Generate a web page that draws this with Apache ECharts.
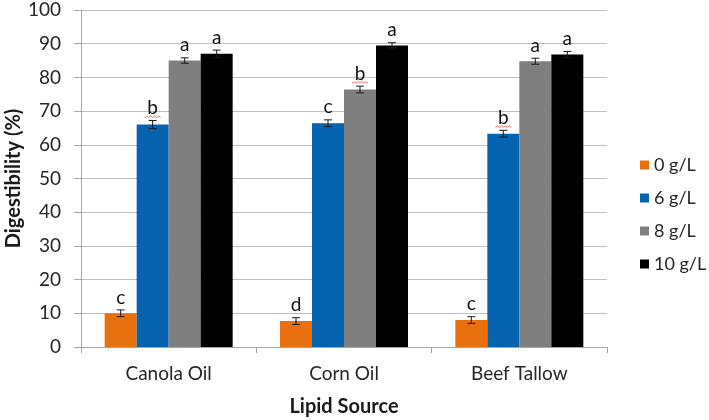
<!DOCTYPE html>
<html>
<head>
<meta charset="utf-8">
<script src="https://cdn.jsdelivr.net/npm/echarts@6/dist/echarts.min.js"></script>
<style>
  html, body { margin: 0; padding: 0; background: #fff; }
  #chart { width: 709px; height: 420px; }
</style>
</head>
<body>
<div id="chart"></div>
<script>
const categories = ["Canola Oil", "Corn Oil", "Beef Tallow"];
const levels = ["0 g/L", "6 g/L", "8 g/L", "10 g/L"];
const colors = ["#E8700E", "#0563B0", "#7F7F7F", "#000000"];

const g0 = [10.0, 7.7, 8.0];
const g6 = [66.0, 66.4, 63.3];
const g8 = [85.0, 76.4, 84.8];
const g10 = [87.0, 89.5, 86.8];

const e0 = [1.0, 1.0, 1.0];
const e6 = [1.2, 1.0, 1.0];
const e8 = [0.8, 1.0, 0.9];
const e10 = [1.1, 0.8, 0.9];

const l0 = ["c", "d", "c"];
const l6 = ["b", "c", "b"];
const l8 = ["a", "b", "a"];
const l10 = ["a", "a", "a"];

const yTicks = [0, 10, 20, 30, 40, 50, 60, 70, 80, 90, 100];

const values = [g0, g6, g8, g10];
const errors = [e0, e6, e8, e10];
const letters = [l0, l6, l8, l10];

const FONT = "Lato";
const CAT_GAP = 0.27;

(() => {
  let myChart = echarts.init(document.querySelector("#chart"));

  const barSeries = levels.map((name, i) => ({
    name: name,
    type: "bar",
    barGap: "0%",
    barCategoryGap: CAT_GAP * 100 + "%",
    itemStyle: { color: colors[i] },
    data: values[i],
  }));

  const errSeries = levels.map((name, i) => ({
    type: "custom",
    z: 10,
    silent: true,
    data: categories.map((c, k) => [k, values[i][k], errors[i][k]]),
    renderItem: (params, api) => {
      const k = api.value(0);
      const v = api.value(1);
      const e = api.value(2);
      const letter = letters[i][k];
      const catW = api.size([1, 0])[0];
      const bw = (catW * (1 - CAT_GAP)) / 4;
      const center = api.coord([k, v]);
      const x = center[0] + (i - 1.5) * bw;
      const hi = api.coord([k, v + e])[1];
      const lo = api.coord([k, v - e])[1];
      const cap = 4;
      const style = { stroke: "#1a1a1a", lineWidth: 1 };
      const children = [
        { type: "line", shape: { x1: x, y1: hi, x2: x, y2: lo }, style },
        { type: "line", shape: { x1: x - cap, y1: hi, x2: x + cap, y2: hi }, style },
        { type: "line", shape: { x1: x - cap, y1: lo, x2: x + cap, y2: lo }, style },
        {
          type: "text",
          style: {
            text: letter,
            x: x,
            y: hi - 3,
            align: "center",
            verticalAlign: "bottom",
            fill: "#111",
            font: "19px " + FONT,
          },
        },
      ];
      if (letter === "b") {
        const pts = [];
        const y0 = hi - 3;
        for (let j = 0; j <= 8; j++) {
          pts.push([x - 8 + j * 2, y0 + (j % 2 === 0 ? 0 : -1.5)]);
        }
        children.push({
          type: "polyline",
          shape: { points: pts },
          style: { stroke: "#d9534f", lineWidth: 0.8, fill: null },
        });
      }
      return { type: "group", children };
    },
  }));

  let option = {
    animation: false,
    textStyle: { fontFamily: FONT },
    legend: {
      orient: "vertical",
      left: 635,
      top: 151,
      itemWidth: 9,
      itemHeight: 9,
      itemGap: 15,
      icon: "rect",
      data: levels,
      textStyle: { fontSize: 18, color: "#262626", fontFamily: FONT },
    },
    grid: {
      left: 81,
      right: 102,
      top: 10,
      bottom: 73,
      outerBoundsMode: "none",
    },
    xAxis: {
      type: "category",
      data: categories,
      name: "Lipid Source",
      nameLocation: "middle",
      nameGap: 50,
      nameMoveOverlap: false,
      nameTextStyle: { fontSize: 20, fontWeight: "bold", color: "#1a1a1a", fontFamily: FONT },
      axisLine: { lineStyle: { color: "#a6a6a6" } },
      axisTick: { show: true, length: 6, lineStyle: { color: "#a6a6a6" } },
      axisLabel: { fontSize: 19, color: "#262626", margin: 17, fontFamily: FONT },
    },
    yAxis: {
      type: "value",
      min: 0,
      max: 100,
      interval: 10,
      name: "Digestibility (%)",
      nameLocation: "middle",
      nameGap: 57,
      nameMoveOverlap: false,
      nameTextStyle: { fontSize: 20, fontWeight: "bold", color: "#1a1a1a", fontFamily: FONT },
      axisLine: { show: true, lineStyle: { color: "#a6a6a6" } },
      axisTick: { show: true, length: 7, lineStyle: { color: "#a6a6a6" } },
      axisLabel: {
        fontSize: 19,
        color: "#262626",
        margin: 20,
        fontFamily: FONT,
        formatter: (v) => (yTicks.includes(v) ? String(v) : ""),
      },
      splitLine: { lineStyle: { color: "#bfbfbf" } },
    },
    series: [...barSeries, ...errSeries],
  };
  myChart.setOption(option);
  window.addEventListener("resize", () => {
    myChart.resize();
  });
})();
</script>
</body>
</html>
